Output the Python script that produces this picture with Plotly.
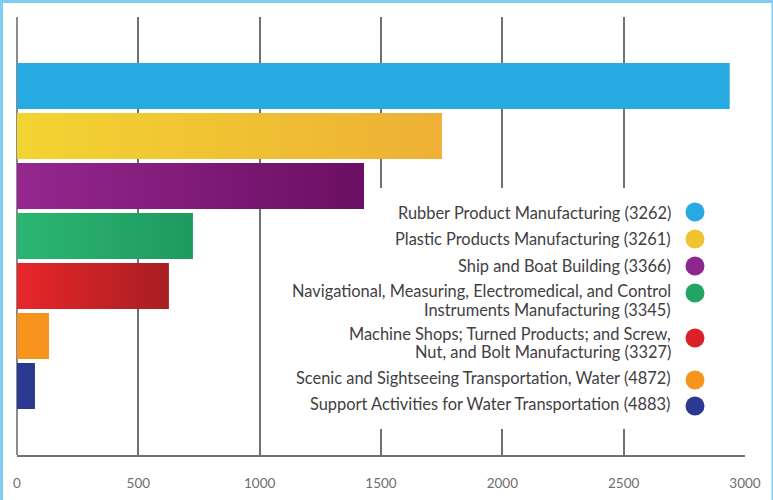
import plotly.graph_objects as go

# ---- data ----
categories = [
    "Rubber Product Manufacturing (3262)",
    "Plastic Products Manufacturing (3261)",
    "Ship and Boat Building (3366)",
    "Navigational, Measuring, Electromedical, and Control<br>Instruments Manufacturing (3345)",
    "Machine Shops; Turned Products; and Screw,<br>Nut, and Bolt Manufacturing (3327)",
    "Scenic and Sightseeing Transportation, Water (4872)",
    "Support Activities for Water Transportation (4883)",
]
values = [2937, 1751, 1430, 725, 626, 132, 74]
grad_start = ["#27aae1", "#f2d432", "#95278f", "#2bb673", "#e8262a", "#f7941d", "#2b3990"]
grad_end = ["#27aae1", "#eeb035", "#6a0f63", "#1f9a5f", "#a81e22", "#f7941d", "#2b3990"]
dot_colors = ["#27aae1", "#f0c330", "#8e278d", "#23a566", "#da2128", "#f7941d", "#2b3990"]
tick_vals = [0, 500, 1000, 1500, 2000, 2500, 3000]
tick_text = ["0", "500", "1000", "1500", "2000", "2500", "3000"]

W, H = 773, 500
L, R, T, B = 17, 28, 17, 45
PW, PH = W - L - R, H - T - B


def px_x(p):
    return (p - L) / PW


def px_y(p):
    return (H - B - p) / PH


fig = go.Figure()

half = 0.46
for i, (cat, v) in enumerate(zip(categories, values)):
    fig.add_trace(go.Scatter(
        x=[0, v, v, 0, 0],
        y=[i - half, i - half, i + half, i + half, i - half],
        mode="lines",
        line=dict(width=0),
        fill="toself",
        fillcolor=grad_start[i],
        fillgradient=dict(type="horizontal", start=0, stop=v,
                          colorscale=[[0, grad_start[i]], [1, grad_end[i]]]),
        name=cat.replace("<br>", " "),
        hoverinfo="skip",
        showlegend=False,
    ))

# legend (custom: text right-aligned, dot on right)
dot_y_px = [212, 239, 266, 293, 338, 380, 406]
line_y_px = [[212], [238.7], [265.7], [290.7, 309.3], [333.5, 351.3], [377.7], [403.5]]
fig.add_trace(go.Scatter(
    x=[px_x(695)] * len(categories),
    y=[px_y(p) for p in dot_y_px],
    xaxis="x2", yaxis="y2",
    mode="markers",
    marker=dict(size=19, color=dot_colors, line=dict(width=0)),
    hoverinfo="skip", showlegend=False,
))

annotations = []
for cat, ys in zip(categories, line_y_px):
    for line, yp in zip(cat.split("<br>"), ys):
        annotations.append(dict(
            xref="paper", yref="paper",
            x=px_x(673), y=px_y(yp),
            xanchor="right", yanchor="middle",
            text=line, showarrow=False,
            font=dict(family="Lato", size=16.4, color="#414042"),
        ))

shapes = [
    # white card inside the light-blue frame
    dict(type="rect", xref="paper", yref="paper", layer="below",
         x0=px_x(3), x1=px_x(771.5), y0=px_y(3), y1=px_y(505),
         fillcolor="white", line=dict(width=0)),
    # white backing behind the legend that hides grid lines
    dict(type="rect", xref="x", yref="y", layer="between",
         x0=1063, x1=2975, y0=2.04, y1=6.86,
         fillcolor="white", line=dict(width=0)),
]

fig.update_layout(
    width=W, height=H,
    autosize=False,
    margin=dict(l=L, r=R, t=T, b=B, pad=0, autoexpand=False),
    paper_bgcolor="#7ecdf0",
    plot_bgcolor="rgba(0,0,0,0)",
    showlegend=False,
    shapes=shapes,
    annotations=annotations,
    xaxis=dict(
        range=[0, 3000], tickvals=tick_vals, ticktext=tick_text,
        showgrid=True, gridcolor="#707174", gridwidth=2,
        zeroline=True, zerolinecolor="#8a8b8d", zerolinewidth=1.5,
        showline=True, linecolor="#707174", linewidth=2,
        ticks="", ticklabelstandoff=15, automargin=False,
        tickfont=dict(family="Lato", size=13.5, color="#6d6e71"),
        fixedrange=True,
    ),
    yaxis=dict(
        range=[7.38, -1.38], showticklabels=False, showgrid=False,
        zeroline=False, showline=False, ticks="", fixedrange=True,
        automargin=False,
    ),
    xaxis2=dict(range=[0, 1], overlaying="x", visible=False, fixedrange=True),
    yaxis2=dict(range=[0, 1], overlaying="y", visible=False, fixedrange=True),
)

fig.write_html(
    "out.html",
    config={"displayModeBar": False},
    post_script="document.body.style.margin='0';document.body.style.overflow='hidden';",
)
